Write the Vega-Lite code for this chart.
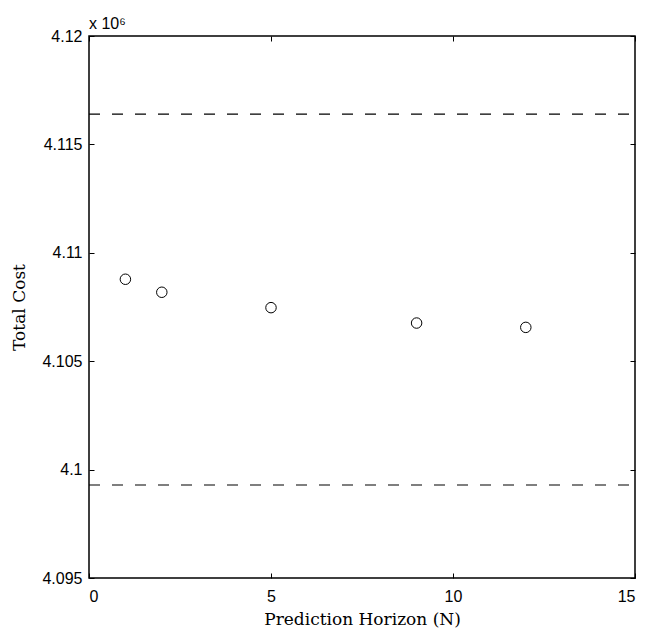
{
  "$schema": "https://vega.github.io/schema/vega-lite/v6.json",
  "width": 546,
  "height": 542,
  "autosize": {"type": "none"},
  "padding": {"left": 89, "top": 36, "right": 12, "bottom": 59},
  "background": "white",
  "config": {
    "view": {"stroke": "black", "strokeWidth": 1.5},
    "axis": {
      "domain": false,
      "grid": false,
      "tickColor": "black",
      "tickSize": -5,
      "tickWidth": 1,
      "labelFont": "Liberation Sans",
      "labelFontSize": 16,
      "labelColor": "black",
      "titleFont": "DejaVu Serif",
      "titleFontSize": 17,
      "titleFontWeight": "normal",
      "titleColor": "black"
    }
  },
  "title": {
    "text": "x 10⁶",
    "anchor": "start",
    "frame": "group",
    "font": "Liberation Sans",
    "fontSize": 16,
    "fontWeight": "normal",
    "color": "black",
    "offset": -4
  },
  "datasets": {
    "bounds": [
      {"bound": "upper", "cost": 4116400},
      {"bound": "lower", "cost": 4099290}
    ],
    "results": [
      {"N": 1, "cost": 4108780},
      {"N": 2, "cost": 4108180},
      {"N": 5, "cost": 4107470},
      {"N": 9, "cost": 4106760},
      {"N": 12, "cost": 4106560}
    ]
  },
  "layer": [
    {
      "data": {"name": "bounds"},
      "mark": {"type": "rule", "strokeDash": [11, 12], "color": "black", "strokeWidth": 1.2},
      "encoding": {
        "x": {
          "datum": 0,
          "type": "quantitative",
          "scale": {"domain": [0, 15], "nice": false, "zero": false},
          "axis": {"orient": "top", "title": null, "labels": false, "values": [0, 5, 10, 15]}
        },
        "x2": {"datum": 15},
        "y": {
          "field": "cost",
          "type": "quantitative",
          "scale": {"domain": [4095000, 4120000], "nice": false, "zero": false},
          "axis": {
            "orient": "left",
            "title": "Total Cost",
            "values": [4095000, 4100000, 4105000, 4110000, 4115000, 4120000],
            "labelExpr": "format(datum.value / 1000000, '~g')",
            "labelPadding": 12,
            "titlePadding": 13
          }
        }
      }
    },
    {
      "data": {"name": "results"},
      "mark": {"type": "point", "shape": "circle", "filled": false, "color": "black", "size": 110, "strokeWidth": 1, "opacity": 1},
      "encoding": {
        "x": {
          "field": "N",
          "type": "quantitative",
          "scale": {"domain": [0, 15], "nice": false, "zero": false},
          "axis": {
            "orient": "bottom",
            "title": "Prediction Horizon (N)",
            "values": [0, 5, 10, 15],
            "labelPadding": 15,
            "titlePadding": 7
          }
        },
        "y": {
          "field": "cost",
          "type": "quantitative",
          "scale": {"domain": [4095000, 4120000], "nice": false, "zero": false},
          "axis": {"orient": "right", "title": null, "labels": false, "values": [4095000, 4100000, 4105000, 4110000, 4115000, 4120000]}
        }
      }
    }
  ],
  "resolve": {"axis": {"x": "independent", "y": "independent"}}
}
